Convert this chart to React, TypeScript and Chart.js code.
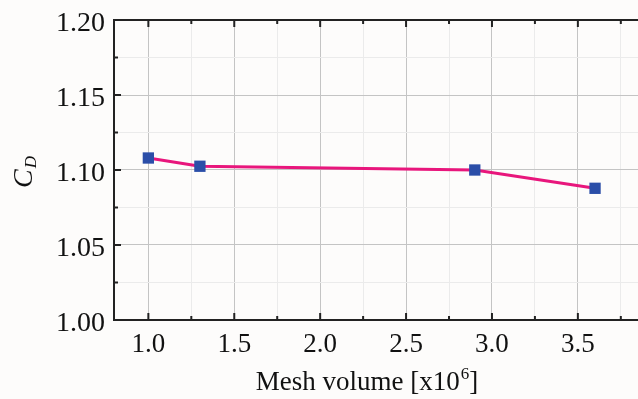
import React, { useEffect, useRef } from "react";
import { Chart, registerables } from "chart.js";

Chart.register(...registerables);

const meshVolume = [1.0, 1.3, 2.9, 3.6];
const cdValues = [1.108, 1.1025, 1.1, 1.0878];
const xMin = 0.8;
const xMax = 3.85;
const yMin = 1.0;
const yMax = 1.2;
const xTickLabels = ["1.0", "1.5", "2.0", "2.5", "3.0", "3.5"];
const yTickLabels = ["1.00", "1.05", "1.10", "1.15", "1.20"];
const xTitleMain = "Mesh volume [x10";
const xTitleSup = "6";
const xTitleEnd = "]";
const yTitleMain = "C";
const yTitleSub = "D";

const FONT = '"Liberation Serif", "Times New Roman", serif';

const isMult = (v: number, step: number) => Math.abs(v / step - Math.round(v / step)) < 1e-6;

const customPlugin = {
  id: "custom",
  beforeDraw(chart: any) {
    const ctx = chart.ctx;
    ctx.save();
    ctx.fillStyle = "#fdfcfb";
    ctx.fillRect(0, 0, chart.width, chart.height);
    ctx.restore();
  },
  afterDraw(chart: any) {
    const ctx = chart.ctx;
    const area = chart.chartArea;
    const xs = chart.scales.x;
    const ys = chart.scales.y;
    ctx.save();
    ctx.strokeStyle = "#222";
    ctx.lineWidth = 2;
    ctx.beginPath();
    ctx.moveTo(area.left, area.top);
    ctx.lineTo(area.left, area.bottom);
    ctx.moveTo(area.left - 1, area.bottom);
    ctx.lineTo(area.right, area.bottom);
    ctx.moveTo(area.left - 1, area.top);
    ctx.lineTo(area.right, area.top);
    ctx.stroke();
    // inward ticks x
    for (let v = 1.0; v <= xMax + 1e-9; v += 0.25) {
      const px = xs.getPixelForValue(v);
      const len = isMult(v, 0.5) ? 7 : 4;
      ctx.beginPath();
      ctx.moveTo(px, area.bottom);
      ctx.lineTo(px, area.bottom - len);
      ctx.moveTo(px, area.top);
      ctx.lineTo(px, area.top + len);
      ctx.stroke();
    }
    for (let v = yMin; v <= yMax + 1e-9; v += 0.025) {
      const py = ys.getPixelForValue(v);
      const len = isMult(v, 0.05) ? 7 : 4;
      ctx.beginPath();
      ctx.moveTo(area.left, py);
      ctx.lineTo(area.left + len, py);
      ctx.stroke();
    }
    // tick labels
    ctx.fillStyle = "#111";
    ctx.textBaseline = "alphabetic";
    ctx.font = `28px ${FONT}`;
    ctx.textAlign = "right";
    yTickLabels.forEach((lab) => {
      const py = ys.getPixelForValue(parseFloat(lab));
      ctx.fillText(lab, area.left - 9, py + 11);
    });
    ctx.font = `27px ${FONT}`;
    ctx.textAlign = "center";
    xTickLabels.forEach((lab) => {
      const px = xs.getPixelForValue(parseFloat(lab));
      ctx.fillText(lab, px, 352);
    });
    // x title
    ctx.textAlign = "left";
    const big = `27px ${FONT}`;
    const small = `17px ${FONT}`;
    ctx.font = big;
    const w1 = ctx.measureText(xTitleMain).width;
    const w3 = ctx.measureText(xTitleEnd).width;
    ctx.font = small;
    const w2 = ctx.measureText(xTitleSup).width;
    const total = w1 + w2 + w3 + 1;
    const x0 = 367 - total / 2;
    const base = 390;
    ctx.font = big;
    ctx.fillText(xTitleMain, x0, base);
    ctx.font = small;
    ctx.fillText(xTitleSup, x0 + w1 + 1, base - 11);
    ctx.font = big;
    ctx.fillText(xTitleEnd, x0 + w1 + w2 + 1, base);
    // y title rotated
    ctx.save();
    ctx.translate(32, 188);
    ctx.rotate(-Math.PI / 2);
    ctx.font = `italic 28px ${FONT}`;
    const cw = ctx.measureText(yTitleMain).width;
    ctx.fillText(yTitleMain, 0, 0);
    ctx.font = `italic 17px ${FONT}`;
    ctx.fillText(yTitleSub, cw + 1, 4);
    ctx.restore();
    ctx.restore();
  },
};

const zeroPad = (s: any) => {
  s.paddingLeft = 0;
  s.paddingRight = 0;
  s.paddingTop = 0;
  s.paddingBottom = 0;
};

export default function App() {
  const ref = useRef<HTMLCanvasElement | null>(null);
  useEffect(() => {
    document.body.style.margin = "0";
    const canvas = ref.current!;
    const gridColor = (step: number) => (c: any) => {
      const v = c.tick ? c.tick.value : 0;
      return isMult(v, step) ? "#c4c4c4" : "#ebebeb";
    };
    const chart = new Chart(canvas, {
      type: "line",
      data: {
        datasets: [
          {
            data: meshVolume.map((x, i) => ({ x, y: cdValues[i] })),
            borderColor: "#e8167c",
            borderWidth: 3,
            pointStyle: "rect",
            pointRadius: 8,
            pointHoverRadius: 8,
            pointBackgroundColor: "#2b4ea8",
            pointBorderColor: "#2b4ea8",
            pointBorderWidth: 0,
            tension: 0,
          },
        ],
      },
      options: {
        animation: false,
        responsive: false,
        maintainAspectRatio: false,
        layout: { autoPadding: false, padding: { top: 20, right: 0, left: 0, bottom: 0 } },
        plugins: { legend: { display: false }, tooltip: { enabled: false } },
        scales: {
          x: {
            type: "linear",
            min: xMin,
            max: xMax,
            border: { display: false },
            afterFit: (s: any) => {
              s.height = 79;
              zeroPad(s);
            },
            afterBuildTicks: (s: any) => {
              const t = [];
              for (let v = 1.0; v <= xMax + 1e-9; v += 0.25) t.push({ value: Math.round(v * 100) / 100 });
              s.ticks = t;
            },
            grid: { drawTicks: false, lineWidth: 1, color: gridColor(0.5) },
            ticks: { display: false, autoSkip: false },
          },
          y: {
            type: "linear",
            min: yMin,
            max: yMax,
            border: { display: false },
            afterFit: (s: any) => {
              s.width = 114;
              zeroPad(s);
            },
            afterBuildTicks: (s: any) => {
              const t = [];
              for (let v = yMin + 0.025; v <= yMax - 0.01; v += 0.025) t.push({ value: Math.round(v * 1000) / 1000 });
              s.ticks = t;
            },
            grid: { drawTicks: false, lineWidth: 1, color: gridColor(0.05) },
            ticks: { display: false, autoSkip: false },
          },
        },
      },
      plugins: [customPlugin],
    } as any);
    return () => chart.destroy();
  }, []);
  return (
    <div style={{ position: "fixed", left: 0, top: 0, width: 638, height: 399 }}>
      <canvas ref={ref} width={638} height={399} style={{ width: 638, height: 399, display: "block" }} />
    </div>
  );
}
